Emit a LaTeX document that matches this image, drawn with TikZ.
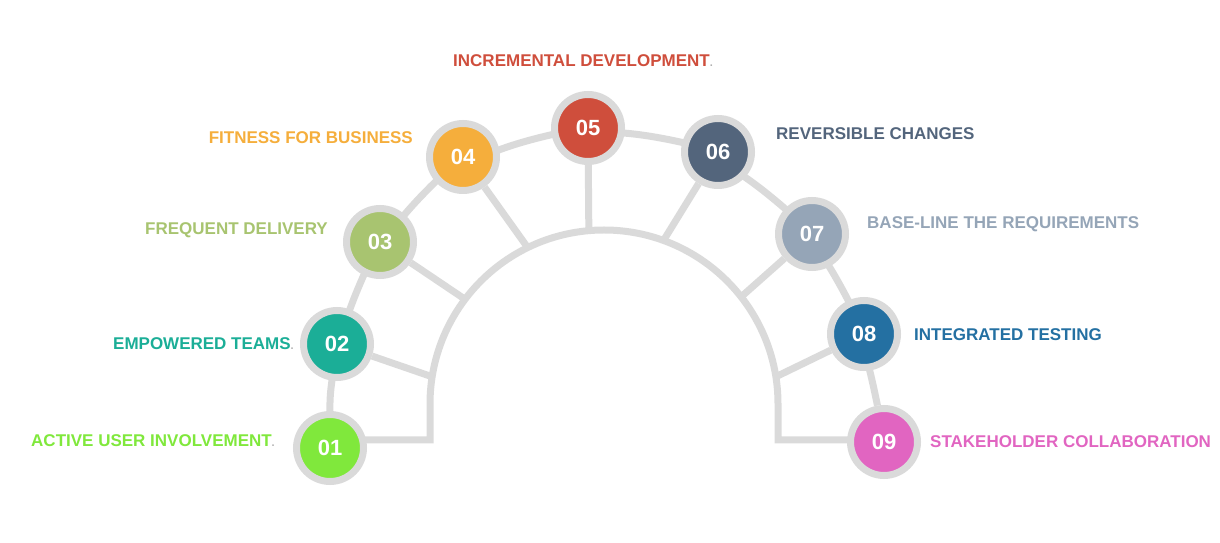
\documentclass[tikz,border=0pt]{standalone}
\usepackage{fontspec}
\setmainfont{Liberation Sans}
\usetikzlibrary{calc,backgrounds}
\definecolor{ringgray}{HTML}{DADADA}
\definecolor{dotgray}{HTML}{B0B0B0}
\definecolor{cA}{HTML}{80E83C}
\definecolor{cB}{HTML}{1BAE97}
\definecolor{cC}{HTML}{A8C470}
\definecolor{cD}{HTML}{F5AE3C}
\definecolor{cE}{HTML}{CF4E3C}
\definecolor{cF}{HTML}{53657C}
\definecolor{cG}{HTML}{95A5B7}
\definecolor{cH}{HTML}{2470A2}
\definecolor{cI}{HTML}{E165C1}
\newcommand{\gdot}{\textcolor{dotgray}{\fontsize{11}{11}\selectfont.}}

\begin{document}
\begin{tikzpicture}[x=1pt,y=1pt,
    dot/.style={circle,draw=ringgray,line width=7pt,minimum size=67pt,inner sep=0pt,
      text=white,font=\fontsize{22}{22}\selectfont\bfseries},
    lbl/.style={inner sep=0pt,font=\fontsize{17}{17}\selectfont\bfseries},
    link/.style={draw=ringgray,line width=7pt,line join=miter}]
    \useasboundingbox (0,0) rectangle (1220,543);
    % the nine steps
    \node (n1) at (330,95) [dot,fill=cA] {01};
    \node (n2) at (337,199) [dot,fill=cB] {02};
    \node (n3) at (380,301) [dot,fill=cC] {03};
    \node (n4) at (463,386) [dot,fill=cD] {04};
    \node (n5) at (588,415) [dot,fill=cE] {05};
    \node (n6) at (718,391) [dot,fill=cF] {06};
    \node (n7) at (812,309) [dot,fill=cG] {07};
    \node (n8) at (864,209) [dot,fill=cH] {08};
    \node (n9) at (884,101) [dot,fill=cI] {09};
    % labels
    \node (t1) at (275,96.5) [lbl,anchor=base east,text=cA] {ACTIVE USER INVOLVEMENT\gdot};
    \node (t2) at (294,193.5) [lbl,anchor=base east,text=cB] {EMPOWERED TEAMS\gdot};
    \node (t3) at (328,308.5) [lbl,anchor=base east,text=cC] {FREQUENT DELIVERY};
    \node (t4) at (413,399.5) [lbl,anchor=base east,text=cD] {FITNESS FOR BUSINESS};
    \node (t5) at (453,476) [lbl,anchor=base west,text=cE] {INCREMENTAL DEVELOPMENT\gdot};
    \node (t6) at (776,403.5) [lbl,anchor=base west,text=cF] {REVERSIBLE CHANGES};
    \node (t7) at (867,314.5) [lbl,anchor=base west,text=cG] {BASE-LINE THE REQUIREMENTS};
    \node (t8) at (914,202.5) [lbl,anchor=base west,text=cH] {INTEGRATED TESTING};
    \node (t9) at (930,95.5) [lbl,anchor=base west,text=cI] {STAKEHOLDER COLLABORATION};
    % inner arch
    \coordinate (o) at (604,139);
    \coordinate (fl) at (430,103);
    \coordinate (fr) at (778,103);
    \coordinate (a2) at ($(o)+(171:174)$);
    \coordinate (a3) at ($(o)+(143:174)$);
    \coordinate (a4) at ($(o)+(116:174)$);
    \coordinate (a5) at ($(o)+(95:174)$);
    \coordinate (a6) at ($(o)+(70:174)$);
    \coordinate (a7) at ($(o)+(38:174)$);
    \coordinate (a8) at ($(o)+(9:174)$);
    \begin{pgfonlayer}{background}
    \draw[link] (fl -| n1) -- (fl) -- ++(0,36)
      arc[start angle=180,end angle=0,radius=174] -- (fr) -- (fr -| n9);
    \draw[link] (n2) -- (a2) (n3) -- (a3) (n4) -- (a4) (n5) -- (a5)
      (n6) -- (a6) (n7) -- (a7) (n8) -- (a8);
    \draw[link] (n1) to[bend left=4] (n2) to[bend left=7] (n3) to[bend left=8] (n4)
      to[bend left=9] (n5) to[bend left=9] (n6) to[bend left=8] (n7)
      to[bend left=7] (n8) to[bend left=4] (n9);
    \end{pgfonlayer}
\end{tikzpicture}
\end{document}
